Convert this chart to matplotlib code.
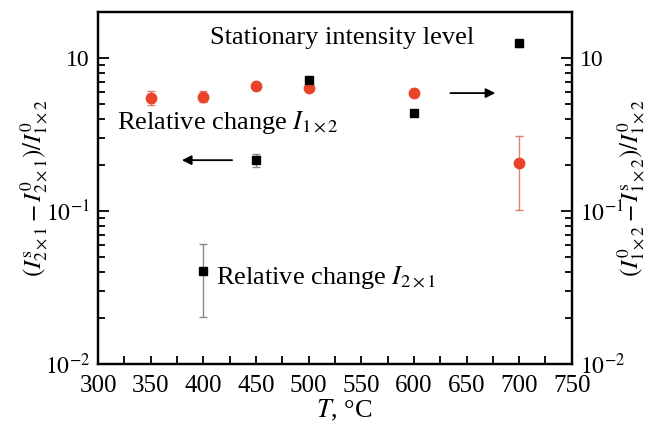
import numpy as np
import matplotlib
matplotlib.use("Agg")
import matplotlib.pyplot as plt
from matplotlib.ticker import FixedLocator, FixedFormatter, LogLocator, NullFormatter, MultipleLocator

plt.rcParams['font.family'] = ['Liberation Serif', 'DejaVu Serif']
plt.rcParams['mathtext.fontset'] = 'stix'
plt.rcParams['font.size'] = 17

# relative change of I_1x2 (red circles)
T_12 = np.array([350, 400, 450, 500, 600, 700])
rel_12 = np.array([0.55, 0.56, 0.656, 0.64, 0.59, 0.206])
err_12 = np.array([0.057, 0.045, 0.02, 0.02, 0.02, 0.104])

# relative change of I_2x1 (black squares)
T_21 = np.array([400, 450, 500, 600, 700])
rel_21 = np.array([0.0407, 0.2155, 0.718, 0.437, 1.25])
err_21 = np.array([0.0203, 0.021, 0.02, 0.02, 0.07])

ytick_vals = [0.01, 0.1, 1]
ytick_labels = [r'$10^{-2}$', r'$10^{-1}$', '10']

red = '#e8442a'

fig = plt.figure(figsize=(6.58, 4.28), dpi=100)
ax = fig.add_axes([0.149, 0.1495, 0.72, 0.8225])

ax.errorbar(T_12, rel_12, yerr=err_12, fmt='o', color=red, ms=7.5,
            ecolor='#e08070', elinewidth=1, capsize=3, capthick=1, zorder=3)
ax.errorbar(T_21, rel_21, yerr=err_21, fmt='s', color='black', ms=6,
            ecolor='#8a8a8a', elinewidth=1, capsize=3, capthick=1, zorder=4)

ax.set_yscale('log')
ax.set_xlim(300, 750)
ax.set_ylim(0.01, 2.0)
ax.xaxis.set_major_locator(MultipleLocator(50))
ax.xaxis.set_minor_locator(MultipleLocator(25))

ax2 = ax.twinx()
ax2.set_yscale('log')
ax2.set_ylim(ax.get_ylim())

for a in (ax, ax2):
    a.yaxis.set_major_locator(FixedLocator(ytick_vals))
    a.yaxis.set_major_formatter(FixedFormatter(ytick_labels))
    a.yaxis.set_minor_locator(LogLocator(base=10, subs=np.arange(2, 10)))
    a.yaxis.set_minor_formatter(NullFormatter())
    for s in a.spines.values():
        s.set_linewidth(1.6)

ax.tick_params(axis='both', which='both', direction='in', width=1.3)
ax.tick_params(axis='y', which='major', length=8, pad=6)
ax.tick_params(axis='y', which='minor', length=5)
ax.tick_params(axis='x', which='both', length=6, pad=8, labelsize=18)
ax2.tick_params(axis='y', which='both', direction='in', width=1.3)
ax2.tick_params(axis='y', which='major', length=8, pad=6)
ax2.tick_params(axis='y', which='minor', length=5)

ax.set_xlabel(r'$T$, °C', fontsize=19)
ax.xaxis.set_label_coords(0.52, -0.097)
ax.set_ylabel(r'$(I^{\rm s}_{2\times1}-I^{0}_{2\times1})/I^{0}_{1\times2}$', fontsize=18)
ax.yaxis.set_label_coords(-0.101, 0.5)
ax2.set_ylabel(r'$(I^{0}_{1\times2}-I^{\rm s}_{1\times2})/I^{0}_{1\times2}$', fontsize=18)
ax2.yaxis.set_label_coords(1.091, 0.5)

ax.text(406, 1.35, 'Stationary intensity level', ha='left', va='center', fontsize=19)
ax.text(318, 0.38, r'Relative change $I_{1\times2}$', ha='left', va='center', fontsize=19)
ax.text(412, 0.0365, r'Relative change $I_{2\times1}$', ha='left', va='center', fontsize=19)

ax.annotate('', xy=(377, 0.215), xytext=(430, 0.215),
            arrowprops=dict(arrowstyle='-|>', color='black', lw=1.3, mutation_scale=14))
ax.annotate('', xy=(680, 0.59), xytext=(632, 0.59),
            arrowprops=dict(arrowstyle='-|>', color='black', lw=1.3, mutation_scale=14))

fig.savefig('out.png', dpi=100)
